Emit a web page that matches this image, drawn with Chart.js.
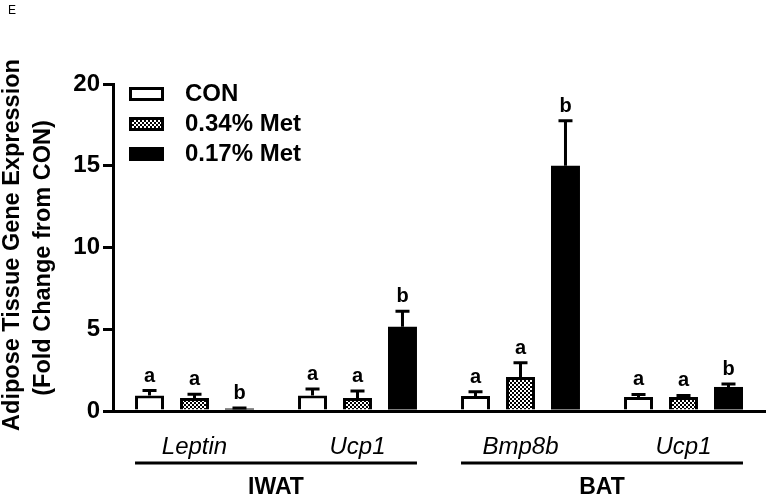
<!DOCTYPE html>
<html><head><meta charset="utf-8">
<script src="https://cdn.jsdelivr.net/npm/chart.js@4.4.0/dist/chart.umd.min.js"></script>
<style>html,body{margin:0;padding:0;background:#fff;}canvas{display:block;}</style>
</head><body>
<canvas id="c" width="770" height="496"></canvas>
<script>
const categories = ['Leptin', 'Ucp1', 'Bmp8b', 'Ucp1'];
const tissues = ['IWAT', 'BAT'];
const tissueFirstCat = [0, 2];
const tissueLastCat = [1, 3];
const seriesNames = ['CON', '0.34% Met', '0.17% Met'];
const conValues = [0.95, 0.95, 0.92, 0.86];
const conErrors = [0.30, 0.40, 0.25, 0.15];
const met034Values = [0.80, 0.80, 2.08, 0.85];
const met034Errors = [0.22, 0.42, 0.87, 0.10];
const met017Values = [0.15, 5.15, 15.0, 1.47];
const met017Errors = [0.03, 0.95, 2.75, 0.18];
const conLetters = ['a', 'a', 'a', 'a'];
const met034Letters = ['a', 'a', 'a', 'a'];
const met017Letters = ['b', 'b', 'b', 'b'];
const yTicks = [0, 5, 10, 15, 20];
const yTitleLines = ['Adipose Tissue Gene Expression', '(Fold Change from CON)'];
const panelLabel = 'E';

const FONT = '"Liberation Sans", Arial, Helvetica, sans-serif';
Chart.defaults.font.family = FONT;
Chart.defaults.color = '#000';

const canvas = document.getElementById('c');
const ctx0 = canvas.getContext('2d');
function makeChecker() {
  const c = document.createElement('canvas');
  c.width = 4; c.height = 4;
  const g = c.getContext('2d');
  g.fillStyle = '#fff'; g.fillRect(0, 0, 4, 4);
  g.fillStyle = '#000'; g.fillRect(0, 0, 2, 2); g.fillRect(2, 2, 2, 2);
  return ctx0.createPattern(c, 'repeat');
}
const checker = makeChecker();

const errorSets = [conErrors, met034Errors, met017Errors];
const letterSets = [conLetters, met034Letters, met017Letters];

const decorPlugin = {
  id: 'decor',
  afterDatasetsDraw(chart) {
    const ctx = chart.ctx;
    const ys = chart.scales.y;
    ctx.save();
    ctx.strokeStyle = '#000';
    ctx.fillStyle = '#000';
    ctx.lineWidth = 3;
    chart.data.datasets.forEach((ds, i) => {
      const meta = chart.getDatasetMeta(i);
      meta.data.forEach((el, j) => {
        const v = ds.data[j];
        const e = errorSets[i][j];
        const yTop = ys.getPixelForValue(v);
        const yErr = ys.getPixelForValue(v + e);
        ctx.beginPath();
        ctx.moveTo(el.x, yTop);
        ctx.lineTo(el.x, yErr);
        ctx.moveTo(el.x - 7, yErr);
        ctx.lineTo(el.x + 7, yErr);
        ctx.stroke();
        ctx.font = 'bold 20px ' + FONT;
        ctx.textAlign = 'center';
        ctx.textBaseline = 'alphabetic';
        ctx.fillText(letterSets[i][j], el.x, yErr - 9);
      });
    });
    ctx.restore();
  },
  afterDraw(chart) {
    const ctx = chart.ctx;
    ctx.save();
    ctx.fillStyle = '#000';
    ctx.strokeStyle = '#000';
    // panel label
    ctx.font = '12px ' + FONT;
    ctx.textAlign = 'left';
    ctx.textBaseline = 'alphabetic';
    ctx.fillText(panelLabel, 8, 14);
    // y title
    ctx.font = 'bold 23.5px ' + FONT;
    ctx.textAlign = 'center';
    const titlePos = [[19, 245], [50, 258]];
    yTitleLines.forEach((t, k) => {
      ctx.save();
      ctx.translate(titlePos[k][0], titlePos[k][1]);
      ctx.rotate(-Math.PI / 2);
      ctx.fillText(t, 0, 0);
      ctx.restore();
    });
    // legend
    const fills = chart.data.datasets.map(d => d.backgroundColor);
    ctx.font = 'bold 24px ' + FONT;
    ctx.textAlign = 'left';
    ctx.textBaseline = 'middle';
    seriesNames.forEach((n, k) => {
      const bx = 129, by = 87 + k * 30, bw = 35, bh = 14;
      ctx.fillStyle = fills[k];
      ctx.fillRect(bx, by, bw, bh);
      ctx.lineWidth = 3;
      ctx.strokeStyle = '#000';
      ctx.strokeRect(bx + 1.5, by + 1.5, bw - 3, bh - 3);
      ctx.fillStyle = '#000';
      ctx.fillText(n, 185, by + bh / 2 + 0.5);
    });
    // group lines + labels
    const m0 = chart.getDatasetMeta(0);
    const m2 = chart.getDatasetMeta(2);
    ctx.lineWidth = 3;
    ctx.font = 'bold 23px ' + FONT;
    ctx.textAlign = 'center';
    ctx.textBaseline = 'alphabetic';
    tissues.forEach((t, k) => {
      const a = m0.data[tissueFirstCat[k]];
      const b = m2.data[tissueLastCat[k]];
      const x1 = a.x - a.width / 2;
      const x2 = b.x + b.width / 2;
      ctx.beginPath();
      ctx.moveTo(x1, 463);
      ctx.lineTo(x2, 463);
      ctx.stroke();
      ctx.fillText(t, (x1 + x2) / 2, 494);
    });
    ctx.restore();
  }
};

new Chart(canvas, {
  type: 'bar',
  data: {
    labels: categories,
    datasets: [
      { label: seriesNames[0], data: conValues, backgroundColor: '#ffffff', borderColor: '#000', borderWidth: 3 },
      { label: seriesNames[1], data: met034Values, backgroundColor: checker, borderColor: '#000', borderWidth: 3 },
      { label: seriesNames[2], data: met017Values, backgroundColor: '#000000', borderColor: '#000', borderWidth: 0 }
    ]
  },
  options: {
    responsive: false,
    animation: false,
    devicePixelRatio: 1,
    layout: { padding: { left: 0, right: 5, top: 84, bottom: 0 } },
    datasets: { bar: { categoryPercentage: 0.828, barPercentage: 0.644, borderSkipped: 'start' } },
    plugins: { legend: { display: false }, tooltip: { enabled: false }, title: { display: false } },
    scales: {
      x: {
        afterFit(s) { s.height = 85; },
        grid: { display: false },
        border: { display: true, color: '#000', width: 3 },
        ticks: { font: { size: 24, style: 'italic' }, color: '#000', padding: 14, maxRotation: 0, autoSkip: false }
      },
      y: {
        min: 0, max: 20,
        afterFit(s) { s.width = 113; },
        afterBuildTicks(s) { s.ticks = yTicks.map(v => ({ value: v })); },
        grid: { display: true, drawOnChartArea: false, drawTicks: true, tickLength: 10, color: '#000', lineWidth: 3 },
        border: { display: true, color: '#000', width: 3 },
        ticks: { font: { size: 24, weight: 'bold' }, color: '#000', padding: 3 }
      }
    }
  },
  plugins: [decorPlugin]
});
</script>
</body></html>
